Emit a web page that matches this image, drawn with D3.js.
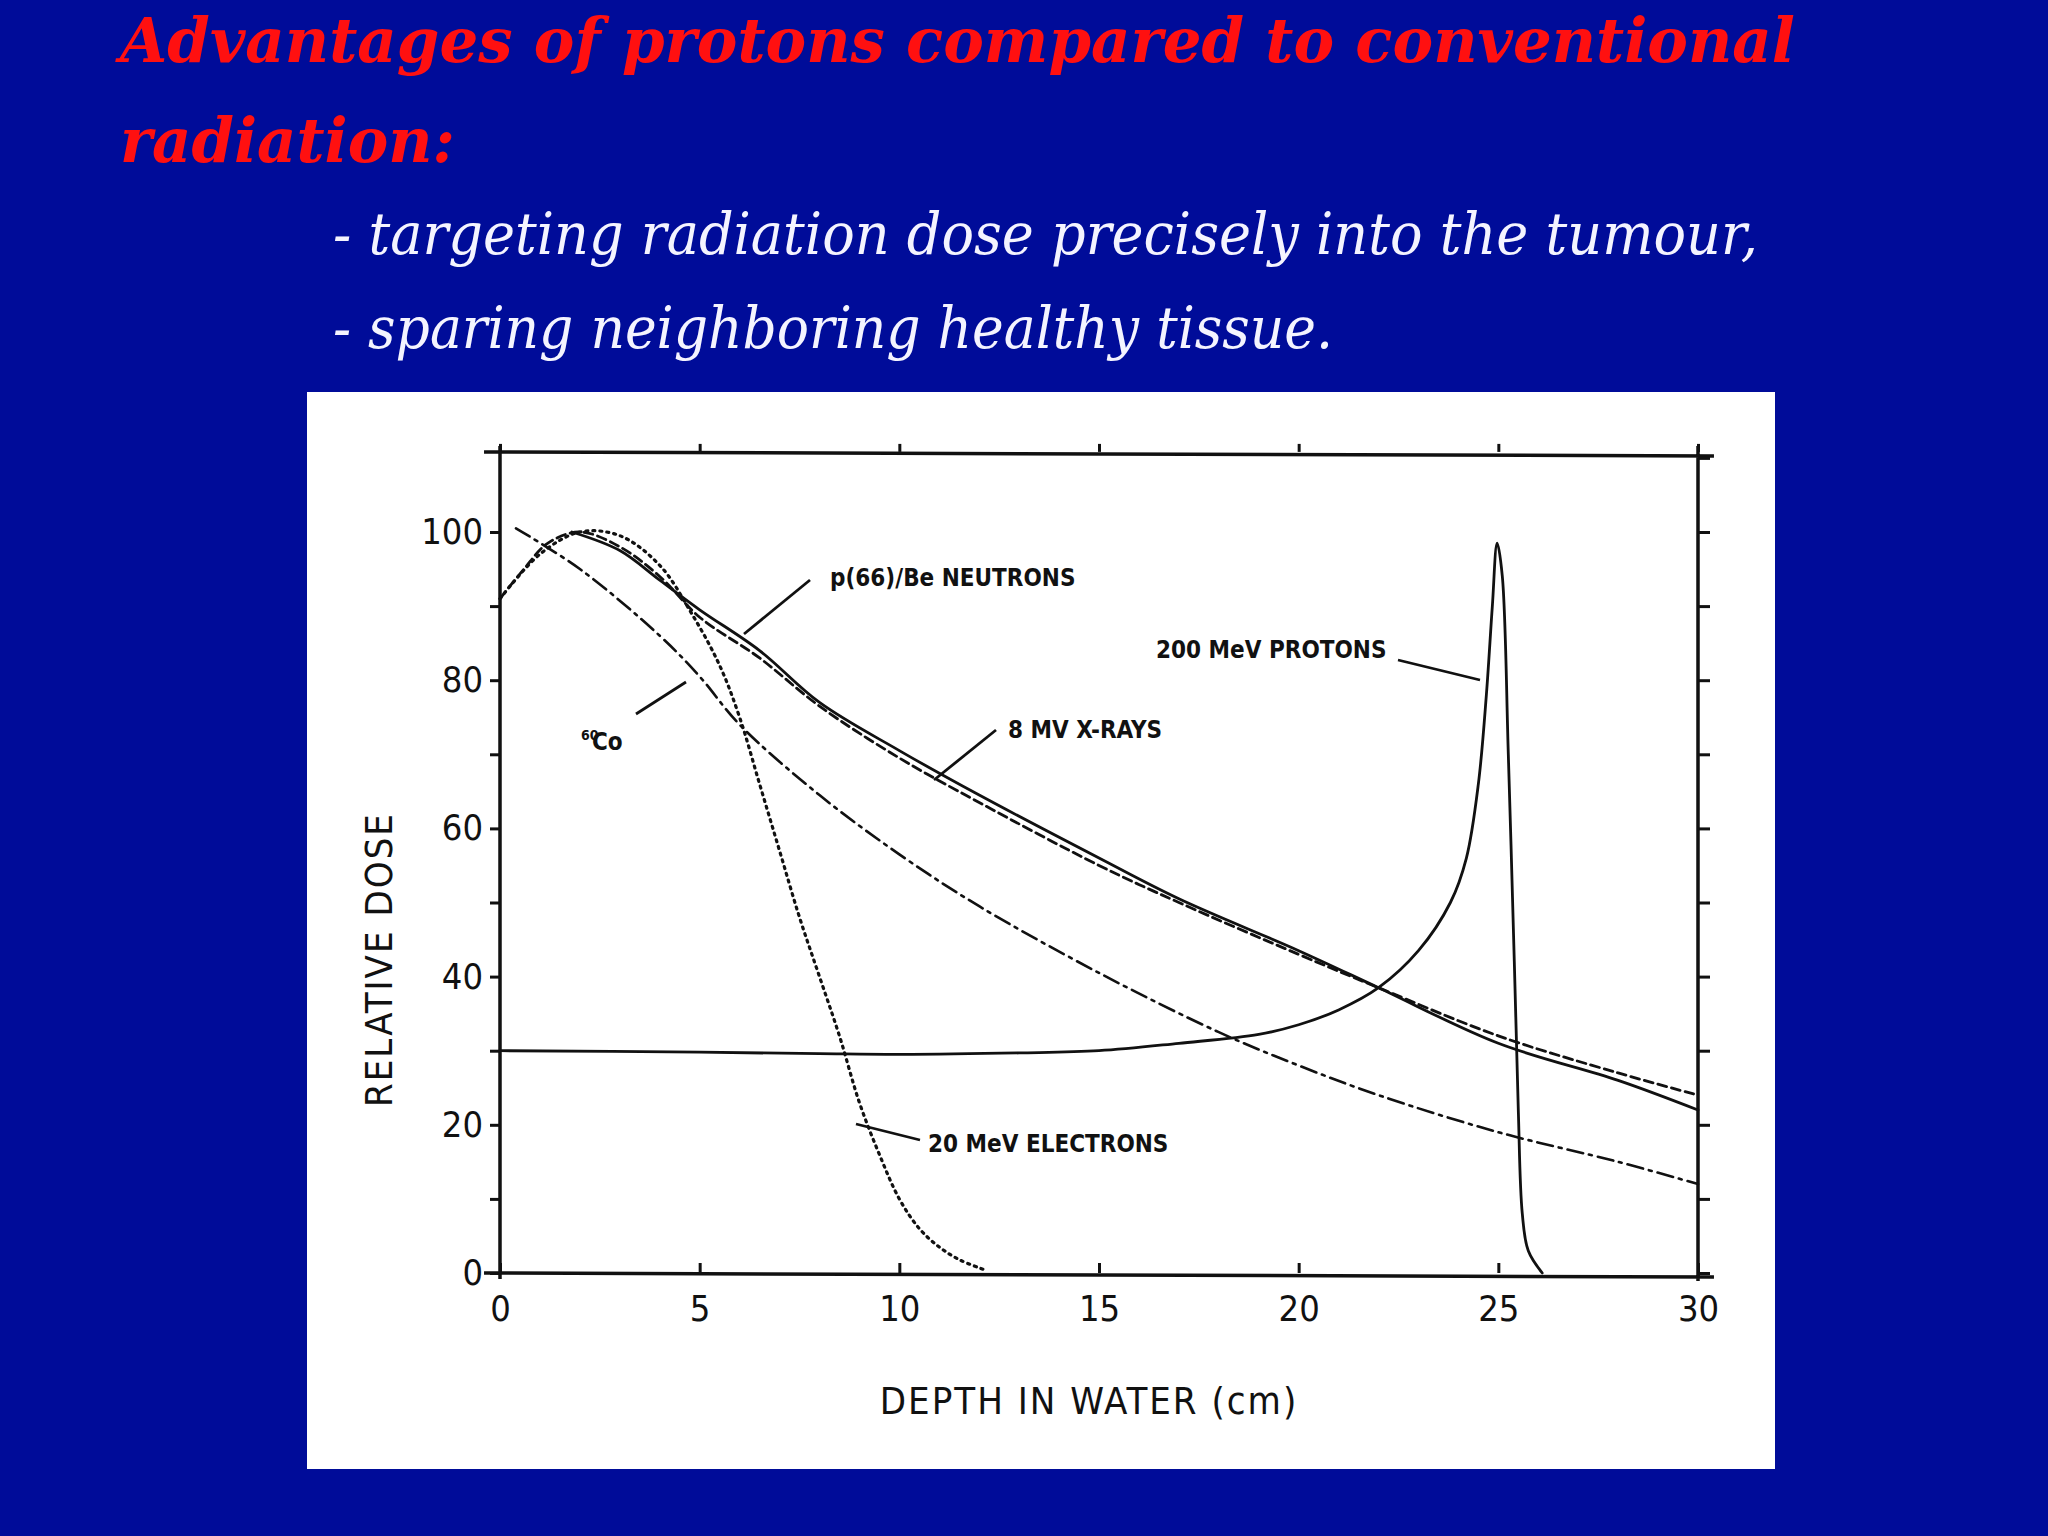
<!DOCTYPE html>
<html><head><meta charset="utf-8">
<script src="https://cdn.jsdelivr.net/npm/d3@7/dist/d3.min.js"></script>
<style>body{margin:0;background:#000C99;}svg{display:block}</style>
</head><body>
<svg id="c" width="2048" height="1536"></svg>
<script>
const titleLines = ["Advantages of protons compared to conventional","radiation:"];
const bullets = ["- targeting radiation dose precisely into the tumour,","- sparing neighboring healthy tissue."];
const xTicks = [0,5,10,15,20,25,30];
const yTicks = [0,20,40,60,80,100];

const neutrons = [[1.8,100],[3,97.5],[4,93.5],[5,89.5],[6.5,84],[8,77],[10,70.5],[12,64.5],[15,56],[17,50.5],[20,43.5],[22,38.5],[25,31],[28,26],[30,22]];
const xrays = [[0,91],[0.6,95],[1.2,98.5],[2,100],[3,98],[4,94],[5,88.5],[6.5,83],[8,76.5],[10,69.5],[12,63.5],[15,55],[17,50],[20,43],[22,38.5],[25,32],[28,27],[30,24]];
const cobalt = [[0.4,100.5],[2,95],[4,86],[5,80.5],[6,74],[8,64.5],[10,56.5],[12,49.5],[15,40.5],[18,32.5],[20,28],[22,24],[25,19],[28,15],[30,12]];
const electrons = [[0,91],[1,97],[2,100],[3,99.5],[4,95.5],[4.8,89],[5.5,82],[6,75],[6.5,66],[7,57],[7.5,48],[8,40],[8.5,32],[9,23],[9.5,16],[10,10],[10.5,6],[11,3.5],[11.5,1.8],[12.1,0.5]];
const protons = [[0,30],[5,29.8],[8,29.6],[10,29.5],[13,29.7],[15,30],[17,31],[19,32.2],[20,33.5],[21,35.5],[22,38.5],[23,43.5],[23.8,50],[24.2,56],[24.5,66],[24.7,78],[24.85,90],[24.97,98.5],[25.1,94],[25.25,70],[25.4,42],[25.5,22],[25.6,8],[25.75,3],[26.1,0]];

const svg = d3.select("#c");
const titleFont = "'DejaVu Serif', serif";
svg.selectAll("text.t").data(titleLines).join("text")
  .attr("x",120).attr("y",(d,i)=>62+i*100)
  .attr("fill","#FF1010").attr("font-family",titleFont).attr("font-style","italic").attr("font-weight","bold")
  .attr("font-size",62).attr("textLength",(d,i)=>i==0?1675:335).attr("lengthAdjust","spacingAndGlyphs").text(d=>d);
svg.selectAll("text.b").data(bullets).join("text")
  .attr("x",333).attr("y",(d,i)=>254+i*94)
  .attr("fill","#F4F4FF").attr("font-family",titleFont).attr("font-style","italic")
  .attr("font-size",58).attr("textLength",(d,i)=>i==0?1425:1000).attr("lengthAdjust","spacingAndGlyphs").text(d=>d);

svg.append("rect").attr("x",307).attr("y",392).attr("width",1468).attr("height",1077).attr("fill","white");

const x = d3.scaleLinear().domain([0,30]).range([500,1698]);
const y = d3.scaleLinear().domain([0,100]).range([1273,532]);
const topY = y(110)-6, font = "'Liberation Sans Narrow','DejaVu Sans Condensed',sans-serif";
const g = svg.append("g").attr("font-family",font).attr("fill","#111");

g.append("path").attr("d",`M${x(-0.4)},${topY}L${x(30.4)},${topY+4}M${x(0)},${topY-6}L${x(0)},${y(0)+6}M${x(30)},${topY-6}L${x(30)},${y(0)+8}M${x(-0.4)},${y(0)}L${x(30.4)},${y(0)+4}`)
 .attr("stroke","#111").attr("stroke-width",3.5).attr("fill","none");

const yAx = d3.axisLeft(y).tickValues(d3.range(0,101,10)).tickSize(10).tickFormat(d=>d%20===0?d:"");
const ya = g.append("g").attr("transform",`translate(${x(0)},0)`).call(yAx);
ya.select(".domain").remove();
ya.selectAll("line").attr("stroke","#111").attr("stroke-width",3);
ya.selectAll("text").attr("font-size",36).attr("font-family",font).attr("fill","#111").attr("dx",-4);
const yr = g.append("g").attr("transform",`translate(${x(30)},0)`).call(d3.axisRight(y).tickValues(d3.range(0,111,10)).tickSize(12).tickFormat(""));
yr.select(".domain").remove(); yr.selectAll("line").attr("stroke","#111").attr("stroke-width",3);

const xa = g.append("g").attr("transform",`translate(0,${y(0)})`).call(d3.axisBottom(x).tickValues(xTicks).tickSize(-10).tickPadding(22));
xa.select(".domain").remove();
xa.selectAll("line").attr("stroke","#111").attr("stroke-width",3);
xa.selectAll("text").attr("font-size",36).attr("font-family",font).attr("fill","#111");
const xt = g.append("g").attr("transform",`translate(0,${topY})`).call(d3.axisTop(x).tickValues(xTicks).tickSize(8).tickFormat(""));
xt.select(".domain").remove(); xt.selectAll("line").attr("stroke","#111").attr("stroke-width",3);

g.append("text").attr("transform",`translate(392,${(y(50)+y(40))/2+20}) rotate(-90)`).attr("text-anchor","middle")
 .attr("font-size",38).attr("letter-spacing",2).text("RELATIVE DOSE");
g.append("text").attr("x",(x(15)-10)).attr("y",1414).attr("text-anchor","middle").attr("font-size",38).attr("letter-spacing",2).text("DEPTH IN WATER (cm)");

const line = d3.line().x(d=>x(d[0])).y(d=>y(d[1])).curve(d3.curveCatmullRom.alpha(0.5));
const curves = [
 {d:neutrons, dash:null, w:2.8},
 {d:xrays, dash:"9,5", w:2.8},
 {d:cobalt, dash:"16,6,3,6", w:2.6},
 {d:electrons, dash:"2,5", w:3.2},
 {d:protons, dash:null, w:2.8}];
g.selectAll("path.c").data(curves).join("path").attr("d",c=>line(c.d)).attr("fill","none")
 .attr("stroke","#111").attr("stroke-width",c=>c.w).attr("stroke-dasharray",c=>c.dash).attr("stroke-linecap","round");

const labels = [
 {t:"p(66)/Be NEUTRONS", lx:830, ly:586, a:[[744,634],[810,580]]},
 {t:"200 MeV PROTONS", lx:1156, ly:658, a:[[1398,660],[1480,680]]},
 {t:"8 MV X-RAYS", lx:1008, ly:738, a:[[934,780],[996,730]]},
 {t:"20 MeV ELECTRONS", lx:928, ly:1152, a:[[856,1124],[920,1140]]},
 {t:"Co", lx:592, ly:750, a:[[636,714],[686,682]]}];
labels.forEach(l=>{
  g.append("text").attr("x",l.lx).attr("y",l.ly).attr("font-size",24).attr("font-weight","bold").text(l.t);
  g.append("path").attr("d",d3.line()(l.a)).attr("stroke","#111").attr("stroke-width",2.8);
});
g.append("text").attr("x",581).attr("y",740).attr("font-size",14).attr("font-weight","bold").text("60");
</script>
</body></html>
